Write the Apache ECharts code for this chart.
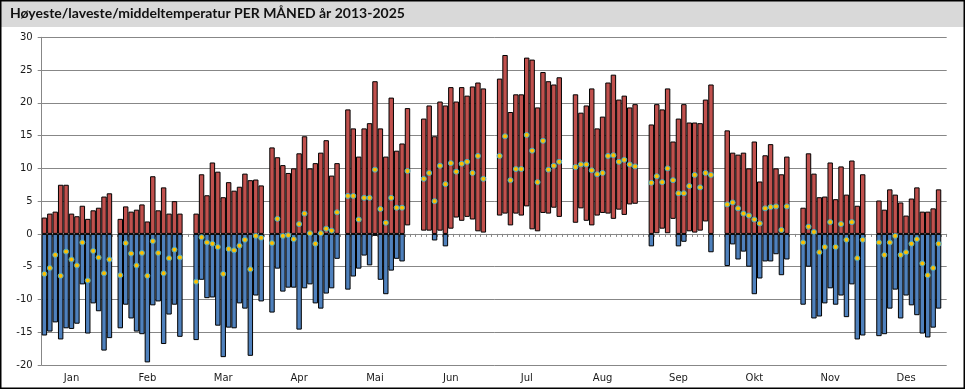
<!DOCTYPE html>
<html><head><meta charset="utf-8">
<script src="https://cdn.jsdelivr.net/npm/echarts@6/dist/echarts.min.js"></script>
<style>html,body{margin:0;padding:0;background:#fff}#c{width:970px;height:390px}</style>
</head><body><div id="c"></div>
<script>
const months = ['Jan','Feb','Mar','Apr','Mai','Jun','Jul','Aug','Sep','Okt','Nov','Des'];
const years = [2013,2014,2015,2016,2017,2018,2019,2020,2021,2022,2023,2024,2025];
const titleText = 'Høyeste/laveste/middeltemperatur PER MÅNED år 2013-2025';
const yMin = -20, yMax = 30, yStep = 5;

// highest temperature per month and year
const tMax = [
  [2.5, 3.1, 3.4, 7.5, 7.5, 3.1, 2.7, 4.3, 2.3, 3.6, 4.0, 5.7, 6.2],
  [2.3, 4.2, 3.4, 3.7, 4.5, 1.9, 8.8, 3.6, 7.1, 3.1, 5.0, 3.1, null],
  [3.1, 9.1, 5.9, 10.9, 9.5, 5.6, 7.9, 6.6, 7.2, 9.2, 8.2, 8.3, 7.4],
  [13.2, 11.7, 10.5, 9.3, 10.0, 12.3, 14.9, 10.0, 10.8, 12.4, 14.3, 8.9, 10.8],
  [19.0, 16.1, 11.8, 16.1, 16.9, 23.3, 16.1, 11.8, 20.8, 12.7, 13.8, 19.2, null],
  [17.6, 19.6, 14.9, 20.2, 19.6, 22.4, 20.2, 22.4, 21.1, 22.5, 23.1, 22.2, null],
  [23.7, 27.3, 18.6, 21.3, 21.3, 26.9, 26.6, 19.3, 24.7, 23.3, 22.8, 23.9, null],
  [21.3, 18.5, 19.6, 22.2, 16.1, 17.9, 23.1, 24.3, 20.5, 21.1, 19.3, 19.8, null],
  [16.7, 19.8, 19.0, 22.2, 14.1, 17.6, 19.8, 17.0, 17.0, 16.9, 20.5, 22.8, null],
  [15.8, 12.4, 12.1, 12.4, 10.0, 14.1, 8.0, 12.0, 13.7, 10.0, 9.1, 11.8, null],
  [4.0, 12.3, 9.2, 5.6, 5.7, 10.9, 5.3, 10.3, 6.0, 11.2, 4.3, 9.1, null],
  [5.1, 3.7, 6.8, 6.0, 4.8, 2.8, 5.4, 7.1, 3.4, 3.4, 3.9, 6.8, null]
];
// lowest temperature per month and year
const tMin = [
  [-15.5, -14.9, -13.5, -16.1, -14.4, -14.5, -13.7, -7.7, -15.2, -10.6, -11.8, -17.8, -15.9],
  [-14.4, -10.8, -12.9, -14.9, -15.3, -19.6, -10.9, -10.3, -16.8, -12.3, -10.8, -15.7, null],
  [-16.2, -7.0, -9.8, -9.7, -14.0, -18.8, -14.3, -14.4, -10.6, -11.4, -18.6, -9.4, -10.3],
  [-12.0, -5.3, -8.8, -8.2, -8.2, -14.6, -8.3, -7.7, -10.6, -11.4, -9.1, -8.3, -3.8],
  [-8.5, -6.5, -5.3, -3.3, -4.8, -0.3, -7.0, -9.2, -5.6, -3.8, -4.2, 1.3, null],
  [0.5, 0.5, -1.0, 0.5, -1.9, 0.8, 2.5, 2.0, 2.6, 2.2, 0.4, 0.2, null],
  [2.8, 3.1, 1.3, 3.1, 2.8, 4.2, 0.7, 0.4, 3.2, 3.1, 4.0, 2.6, null],
  [1.7, 3.9, 2.0, 1.3, 2.8, 3.2, 3.1, 2.3, 3.7, 2.9, 4.5, 4.6, null],
  [-1.9, 0.1, 0.8, 0.1, 2.3, -1.9, -1.2, 0.4, 0.2, 0.5, 1.9, -2.8, null],
  [-4.9, -1.6, -3.9, -2.7, -5.0, -9.2, -6.8, -4.2, -4.2, -3.1, -6.3, -3.9, null],
  [-10.8, -5.0, -12.9, -12.6, -10.6, -8.3, -10.8, -9.4, -12.7, -7.7, -16.1, -15.5, null],
  [-15.6, -15.3, -11.4, -8.5, -12.9, -9.4, -10.9, -12.4, -15.2, -15.8, -14.3, -11.4, null]
];
// mean temperature per month and year
const tMean = [
  [-6.1, -5.2, -3.2, -6.4, -2.7, -3.9, -4.8, -1.3, -7.1, -2.6, -3.6, -6.0, -3.9],
  [-6.3, -1.4, -3.0, -4.8, -2.9, -6.4, -1.1, -2.9, -6.0, -3.7, -2.4, -3.6, null],
  [-7.3, -0.5, -1.3, -1.5, -2.0, -6.1, -2.3, -2.5, -1.8, -0.9, -5.4, -0.3, -0.6],
  [-1.4, 2.3, -0.3, -0.2, -0.8, 1.5, 3.1, 0.1, -1.5, 0.1, 0.8, 0.5, 3.3],
  [5.8, 5.8, 2.2, 5.5, 5.5, 9.8, 3.8, 1.7, 5.5, 4.0, 4.0, 9.6, null],
  [8.4, 9.3, 5.0, 10.4, 7.6, 10.8, 9.5, 10.7, 11.0, 9.3, 11.9, 8.4, null],
  [11.9, 14.9, 8.2, 9.9, 9.9, 15.1, 12.7, 7.9, 14.2, 9.8, 10.4, 11.0, null],
  [10.2, 10.6, 10.6, 9.7, 9.1, 9.3, 11.9, 12.0, 11.0, 11.3, 10.6, 10.3, null],
  [7.8, 8.8, 7.9, 10.0, 8.2, 6.2, 6.2, 7.3, 9.0, 7.1, 9.3, 9.0, null],
  [4.5, 4.8, 3.9, 3.1, 2.8, 2.2, 1.6, 3.9, 4.1, 4.2, 0.6, 4.2, null],
  [-1.3, 1.1, 0.3, -2.8, -2.0, 1.8, -2.0, 1.5, -0.9, 1.8, -3.7, -0.9, null],
  [-1.3, -3.2, -1.3, -0.3, -3.2, -2.8, -1.5, -0.8, -4.5, -6.3, -5.2, -1.5, null]
];

// build category slots: 13 years per month + one empty slot between months
const cats = [], baseUp = [], red = [], baseDown = [], blue = [], mean = [];
const labelAt = {};
months.forEach((m, mi) => {
  years.forEach((y, yi) => {
    const idx = cats.length;
    cats.push(m + ' ' + y);
    if (yi === 5) labelAt[idx] = m;
    const hi = tMax[mi][yi], lo = tMin[mi][yi], av = tMean[mi][yi];
    if (hi == null || lo == null) {
      baseUp.push(null); red.push(null); baseDown.push(null); blue.push(null);
    } else {
      baseUp.push(lo > 0 ? lo : null);
      red.push(hi > 0 ? +(hi - Math.max(lo, 0)).toFixed(2) : null);
      baseDown.push(hi < 0 ? hi : null);
      blue.push(lo < 0 ? +(lo - Math.min(hi, 0)).toFixed(2) : null);
    }
    if (av != null) mean.push([idx, av]);
  });
  if (mi < months.length - 1) {
    cats.push('gap' + mi);
    baseUp.push(null); red.push(null); baseDown.push(null); blue.push(null);
  }
});

const GRAY = '#878787';
const FONT = 'DejaVu Sans';
const chart = echarts.init(document.getElementById('c'), null, {renderer: 'canvas'});
chart.setOption({
  animation: false,
  backgroundColor: '#fff',
  graphic: [
    {type: 'rect', shape: {x: 0, y: 0, width: 965, height: 27}, style: {fill: '#d9d9d9'}, z: 0},
    {type: 'rect', shape: {x: 0.75, y: 0.75, width: 963.5, height: 387.5}, style: {fill: null, stroke: '#000', lineWidth: 1.5}, z: 10},
    {type: 'text', left: 10, top: 6, style: {text: titleText, font: 'bold 14px Lato', fill: '#111'}, z: 10}
  ],
  grid: {left: 41.7, right: 23.3, top: 37.3, bottom: 25, containLabel: false},
  xAxis: [
    {type: 'category', data: cats, boundaryGap: true,
      axisLine: {show: true, onZero: true, lineStyle: {color: GRAY, width: 1}},
      axisTick: {show: true, interval: 0, length: 3, lineStyle: {color: GRAY}},
      axisLabel: {show: false}, splitLine: {show: false}},
    {type: 'category', data: cats, boundaryGap: true, position: 'bottom',
      axisLine: {show: false, onZero: false}, axisTick: {show: false},
      axisLabel: {show: true, interval: 0, margin: 8, fontFamily: FONT, fontSize: 10, color: '#1a1a1a',
        formatter: (v, i) => labelAt[i] || ''},
      splitLine: {show: false}}
  ],
  yAxis: {type: 'value', min: yMin, max: yMax, interval: yStep,
    axisLine: {show: true, lineStyle: {color: GRAY}},
    axisTick: {show: true, length: 4, lineStyle: {color: GRAY}},
    axisLabel: {margin: 9, fontFamily: FONT, fontSize: 10, color: '#1a1a1a'},
    splitLine: {show: true, lineStyle: {color: GRAY, width: 1}}},
  series: [
    {type: 'bar', stack: 't', data: baseUp, barCategoryGap: '0%', itemStyle: {color: 'transparent', borderWidth: 0}, silent: true},
    {type: 'bar', stack: 't', data: red, barCategoryGap: '0%', itemStyle: {color: '#c0504d', borderColor: '#000', borderWidth: 1}},
    {type: 'bar', stack: 't', data: baseDown, barCategoryGap: '0%', itemStyle: {color: 'transparent', borderWidth: 0}, silent: true},
    {type: 'bar', stack: 't', data: blue, barCategoryGap: '0%', itemStyle: {color: '#4f81bd', borderColor: '#000', borderWidth: 1}},
    {type: 'scatter', data: mean, symbol: 'circle', symbolSize: 5, z: 5,
      itemStyle: {color: '#ffc000', borderColor: '#4bacc6', borderWidth: 1, opacity: 1}}
  ]
});
</script></body></html>
